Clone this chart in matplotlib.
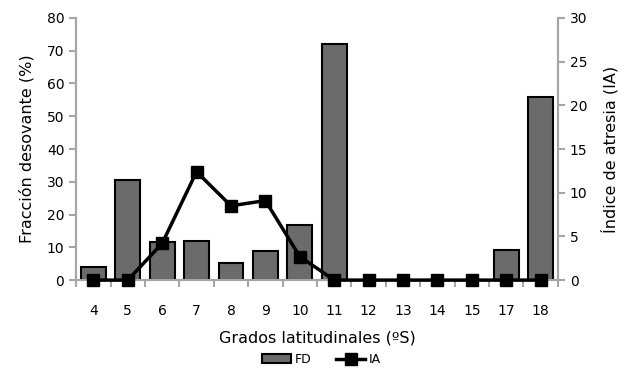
import numpy as np
import matplotlib.pyplot as plt
from matplotlib.lines import Line2D
from matplotlib.patches import Patch

# data
grados = ["4", "5", "6", "7", "8", "9", "10", "11", "12", "13", "14", "15", "17", "18"]
fd = [4, 30.5, 11.5, 12, 5.3, 9, 16.7, 72, 0, 0, 0, 0, 9.3, 56]
ia = [0, 0, 4.2, 12.4, 8.5, 9.1, 2.7, 0, 0, 0, 0, 0, 0, 0]

gray = "#a6a6a6"
x = np.arange(len(grados))

fig = plt.figure(figsize=(6.24, 3.73), dpi=100)
ax = fig.add_axes([0.122, 0.249, 0.772, 0.703])
ax2 = ax.twinx()

ax.bar(x, fd, width=0.72, color="#6b6b6b", edgecolor="black", linewidth=1.5, zorder=2)
ax2.plot(x, ia, color="black", lw=2.5, marker="s", ms=8, zorder=3, clip_on=False)

ax.set_xlim(-0.5, len(grados) - 0.5)
ax.set_ylim(0, 80)
ax2.set_ylim(0, 30)
ax.set_yticks(np.arange(0, 81, 10))
ax2.set_yticks(np.arange(0, 31, 5))
ax.set_xticks(x)
ax.set_xticklabels(grados)
ax.set_xticks(np.arange(-0.5, len(grados), 1), minor=True)
ax.tick_params(axis="x", which="major", length=0, pad=17, labelsize=10)
ax.tick_params(axis="x", which="minor", length=5, width=1.5, color=gray)
ax.tick_params(axis="y", length=5, width=1.5, color=gray, labelsize=10)
ax2.tick_params(axis="y", length=5, width=1.5, color=gray, labelsize=10)

for a in (ax, ax2):
    a.spines["top"].set_visible(False)
    for s in ("left", "right", "bottom"):
        a.spines[s].set_color(gray)
        a.spines[s].set_linewidth(1.5)

ax.set_ylabel("Fracción desovante (%)", fontsize=11.5, labelpad=9)
ax2.set_ylabel("Índice de atresia (IA)", fontsize=11.5, labelpad=10)
ax.set_xlabel("Grados latitudinales (ºS)", fontsize=11.5, labelpad=9)

handles = [Patch(facecolor="#6b6b6b", edgecolor="black", linewidth=1.5),
           Line2D([0], [0], color="black", lw=2.5, marker="s", ms=8)]
fig.legend(handles, ["FD", "IA"], loc="center", bbox_to_anchor=(0.515, 0.036),
           ncol=2, frameon=False, fontsize=9, handlelength=2.3,
           handletextpad=0.3, columnspacing=2.0)

fig.savefig("out.png", dpi=100)
